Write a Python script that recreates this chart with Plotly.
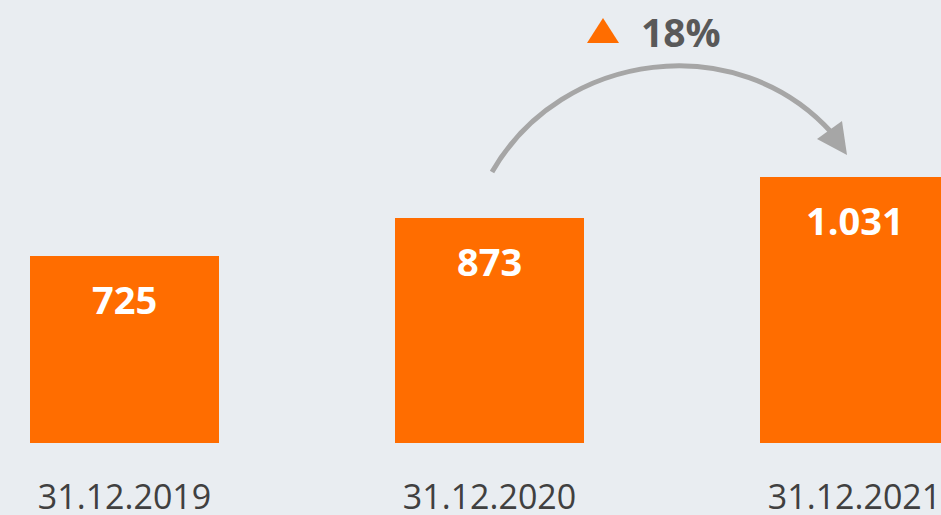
import plotly.graph_objects as go

dates = ["31.12.2019", "31.12.2020", "31.12.2021"]
values = [725, 873, 1031]
growth_label = "18%"

BG = "#E9EDF1"
ORANGE = "#FF6D00"
ARROW_GREY = "#A6A6A6"

# pixel -> data helpers for the decoration (plot area fills the canvas above the labels)
PX_PER_CAT = 365
X0_PX = 124.5
PX_PER_UNIT = 0.258
BASE_PX = 443


def to_x(px):
    return (px - X0_PX) / PX_PER_CAT


def to_y(py):
    return (BASE_PX - py) / PX_PER_UNIT


def path(points, cmd):
    return cmd.format(*[v for p in points for v in (to_x(p[0]), to_y(p[1]))])


xs = list(range(len(dates)))

fig = go.Figure(
    go.Bar(
        x=xs,
        y=values,
        width=0.518,
        marker=dict(color=ORANGE, line_width=0),
        hoverinfo="skip",
    )
)

for x, v in zip(xs, values):
    fig.add_annotation(
        x=x,
        y=v,
        text=f"{v:,}".replace(",", "."),
        showarrow=False,
        yanchor="middle",
        yshift=-43,
        font=dict(family="Open Sans", size=38, color="white", weight="bold"),
    )

# curved arrow between 2020 and 2021
fig.add_shape(
    type="path",
    xref="x",
    yref="y",
    path=path([(492, 172), (562, 50), (738, 28), (832, 133)], "M {} {} C {} {}, {} {}, {} {}"),
    line=dict(color=ARROW_GREY, width=5),
)
fig.add_shape(
    type="path",
    xref="x",
    yref="y",
    path=path([(847, 155), (817, 139), (842, 121)], "M {} {} L {} {} L {} {} Z"),
    fillcolor=ARROW_GREY,
    line=dict(color=ARROW_GREY, width=0),
)
# orange up triangle
fig.add_shape(
    type="path",
    xref="x",
    yref="y",
    path=path([(587, 43), (603, 18), (619, 43)], "M {} {} L {} {} L {} {} Z"),
    fillcolor=ORANGE,
    line=dict(color=ORANGE, width=0),
)
fig.add_annotation(
    x=to_x(639),
    y=to_y(31),
    xanchor="left",
    yanchor="middle",
    text=growth_label,
    showarrow=False,
    font=dict(family="Open Sans", size=39, color="#595959", weight="bold"),
)

fig.update_xaxes(
    range=[to_x(0), to_x(941)],
    tickvals=xs,
    ticktext=dates,
    showgrid=False,
    zeroline=False,
    showline=False,
    ticks="outside",
    ticklen=24,
    tickcolor="rgba(0,0,0,0)",
    tickfont=dict(family="Open Sans", size=34, color="#404040"),
    ticklabeloverflow="allow",
    automargin=False,
    fixedrange=True,
)
fig.update_yaxes(
    range=[0, to_y(0)],
    visible=False,
    automargin=False,
    fixedrange=True,
)
fig.update_layout(
    width=941,
    height=515,
    margin=dict(l=0, r=0, t=0, b=515 - BASE_PX),
    paper_bgcolor=BG,
    plot_bgcolor=BG,
    showlegend=False,
    bargap=0,
)

fig.write_html(
    "out.html",
    config={"displayModeBar": False},
    post_script="document.body.style.margin='0';document.body.style.overflow='hidden';",
)
